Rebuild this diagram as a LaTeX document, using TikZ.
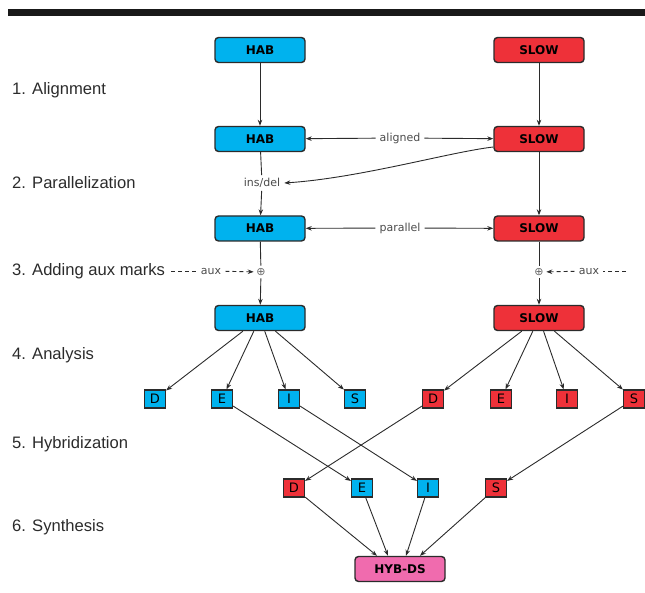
\documentclass[tikz,border=0pt]{standalone}
\usepackage{fontspec}
\setmainfont{DejaVu Sans}
\newfontfamily\stepfont{Liberation Sans}
\usepackage{tikz}
\usetikzlibrary{arrows.meta}
\definecolor{habblue}{HTML}{00B2EE}
\definecolor{slowred}{HTML}{EE3139}
\definecolor{hybpink}{HTML}{F06BAE}
\definecolor{ink}{HTML}{2B2B2B}
\tikzset{
  bigbox/.style={draw=ink,line width=1.4pt,rounded corners=3.5pt,minimum width=90pt,minimum height=25pt,inner sep=0pt,font=\fontsize{12}{12}\selectfont\bfseries},
  hab/.style={bigbox,fill=habblue},
  slow/.style={bigbox,fill=slowred},
  hyb/.style={bigbox,fill=hybpink},
  letter/.style={draw=ink,line width=1.2pt,minimum width=21pt,minimum height=18pt,inner sep=0pt,font=\fontsize{13}{13}\selectfont},
  bluel/.style={letter,fill=habblue},
  redl/.style={letter,fill=slowred},
  steplabel/.style={anchor=west,inner sep=0pt,font=\stepfont\fontsize{16.6}{17}\selectfont,text=ink},
  tag/.style={font=\fontsize{11}{11}\selectfont,text=ink!85,inner xsep=4pt,inner ysep=3pt},
  plus/.style={font=\fontsize{11}{11}\selectfont,text=ink!70,inner sep=2.5pt},
  link/.style={draw=ink,line width=.9pt},
  flow/.style={link,-{Stealth[length=6pt,width=4.5pt]}},
  auxline/.style={link,dash pattern=on 4pt off 3pt},
  auxflow/.style={flow,dash pattern=on 4pt off 3pt}
}
\begin{document}
\begin{tikzpicture}[x=1pt,y=-1pt]
  \useasboundingbox (0,0) rectangle (645,593);
  \fill[black!90] (8,9.5) rectangle (645,16);

  % step labels
  \node[steplabel] (s1) at (12,90) {1. Alignment};
  \node[steplabel] (s2) at (12,183) {2. Parallelization};
  \node[steplabel] (s3) at (12,271) {3. Adding aux marks};
  \node[steplabel] (s4) at (12,355) {4. Analysis};
  \node[steplabel] (s5) at (12,444) {5. Hybridization};
  \node[steplabel] (s6) at (12,527) {6. Synthesis};

  % the two columns
  \node[hab] (hab1) at (260,50) {HAB};
  \node[slow] (slow1) at (539,50) {SLOW};
  \node[hab] (hab2) at (260,139) {HAB};
  \node[slow] (slow2) at (539,139) {SLOW};
  \node[tag] (insdel) at (262,183) {ins/del};
  \node[hab] (hab3) at (260,228.5) {HAB};
  \node[slow] (slow3) at (539,228.5) {SLOW};
  \node[plus] (plusL) at (261,272) {⊕};
  \node[plus] (plusR) at (539,272) {⊕};
  \node[hab] (hab4) at (260,318) {HAB};
  \node[slow] (slow4) at (539,318) {SLOW};

  \node[tag] (aligned) at (400,138) {aligned};
  \node[tag] (parallel) at (400,228) {parallel};
  \node[tag] (auxL) at (211,271) {aux};
  \node[tag] (auxR) at (589,271) {aux};
  \coordinate (auxEnd) at (626,271);

  \draw[flow] (hab1) -- (hab2);
  \draw[flow] (slow1) -- (slow2);
  \draw[flow] (aligned) -- (hab2);
  \draw[flow] (aligned) -- (slow2);
  \draw[link] (hab2) -- (insdel);
  \draw[flow] (insdel) -- (hab3);
  \draw[flow] ([yshift=-8pt]slow2.west) .. controls (450,152) and (360,178) .. (insdel.east);
  \draw[flow] (slow2) -- (slow3);
  \draw[flow] (parallel) -- (hab3);
  \draw[flow] (parallel) -- (slow3);
  \draw[link] (hab3) -- (plusL);
  \draw[link] (slow3) -- (plusR);
  \draw[flow] (plusL) -- (hab4);
  \draw[flow] (plusR) -- (slow4);
  \draw[auxline] (s3.east) ++(6,0) -- (auxL);
  \draw[auxflow] (auxL) -- (plusL);
  \draw[auxline] (auxEnd) -- (auxR);
  \draw[auxflow] (auxR) -- (plusR);

  % analysis
  \node[bluel] (bD) at (155,399) {D};
  \node[bluel] (bE) at (222,399) {E};
  \node[bluel] (bI) at (289,399) {I};
  \node[bluel] (bS) at (355,399) {S};
  \node[redl] (rD) at (433,399) {D};
  \node[redl] (rE) at (501,399) {E};
  \node[redl] (rI) at (567,399) {I};
  \node[redl] (rS) at (634,399) {S};
  \foreach \n in {bD,bE,bI,bS} \draw[flow] (hab4) -- (\n);
  \foreach \n in {rD,rE,rI,rS} \draw[flow] (slow4) -- (\n);

  % hybridization
  \node[redl] (hD) at (294,488) {D};
  \node[bluel] (hE) at (362,488) {E};
  \node[bluel] (hI) at (428,488) {I};
  \node[redl] (hS) at (496,488) {S};
  \draw[flow] (bE) -- (hE);
  \draw[flow] (bI) -- (hI);
  \draw[flow] (rD) -- (hD);
  \draw[flow] (rS) -- (hS);

  % synthesis
  \node[hyb] (hybds) at (400,569) {HYB-DS};
  \draw[flow] (hD) -- ([xshift=-23pt]hybds.north);
  \draw[flow] (hE) -- ([xshift=-12pt]hybds.north);
  \draw[flow] (hI) -- ([xshift=6pt]hybds.north);
  \draw[flow] (hS) -- ([xshift=20pt]hybds.north);
\end{tikzpicture}
\end{document}
